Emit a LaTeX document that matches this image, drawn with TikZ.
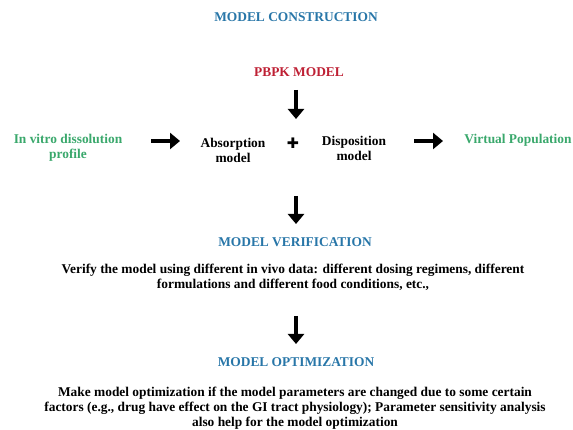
\documentclass[tikz,border=0pt]{standalone}
\usepackage{fontspec}
\setmainfont{Liberation Serif}
\newfontfamily\symfont{DejaVu Sans}
\usetikzlibrary{positioning,arrows.meta}
\usepackage{xcolor}
\definecolor{stageblue}{RGB}{40,118,168}
\definecolor{pbpkred}{RGB}{190,32,52}
\definecolor{inoutgreen}{RGB}{58,168,108}

\begin{document}
\begin{tikzpicture}[
    x=1pt, y=-1pt,
    title/.style={font=\bfseries\fontsize{13.4}{15}\selectfont, text=stageblue, inner sep=1pt},
    part/.style={font=\bfseries\fontsize{13.4}{15}\selectfont, align=center, inner sep=1pt},
    side/.style={part, text=inoutgreen},
    desc/.style={font=\bfseries\fontsize{13.4}{15}\selectfont, align=center, inner sep=1pt},
    bigarrow/.style={-{Triangle[length=10pt,width=16pt]}, line width=4.5pt}
]
    \useasboundingbox (0,0) rectangle (573,430);

    \node[title] (construction) at (296,17) {MODEL CONSTRUCTION};
    \node[part, text=pbpkred] (pbpk) at (299,72) {PBPK MODEL};
    \coordinate (pbpktop) at (296,90);
    \coordinate (pbpkend) at (296,119);

    \node[side] (dissolution) at (68,148) {In vitro dissolution\\profile};
    \node[part] (absorption) at (233,150) {Absorption\\model};
    \node[font=\symfont\fontsize{14.5}{14.5}\selectfont, inner sep=0pt] (plus) at (293,143) {✚};
    \node[part] (disposition) at (354,148) {Disposition\\model};
    \node[side] (population) at (518,140) {Virtual Population};

    \coordinate (arrowAstart) at (151,141);
    \coordinate (arrowAend) at (180,141);
    \coordinate (arrowBstart) at (414,141);
    \coordinate (arrowBend) at (443,141);

    \coordinate (verifytop) at (296,196);
    \coordinate (verifyend) at (296,224);
    \node[title] (verification) at (295,242) {MODEL VERIFICATION};
    \node[desc] (verify) at (293,277) {Verify the model using different in vivo data: different dosing regimens, different\\formulations and different food conditions, etc.,};

    \coordinate (optimtop) at (296,316);
    \coordinate (optimend) at (296,344);
    \node[title] (optimization) at (296,362) {MODEL OPTIMIZATION};
    \node[desc] (optimize) at (295,408) {Make model optimization if the model parameters are changed due to some certain\\factors (e.g., drug have effect on the GI tract physiology); Parameter sensitivity analysis\\also help for the model optimization};

    \draw[bigarrow] (pbpktop) -- (pbpkend);
    \draw[bigarrow] (arrowAstart) -- (arrowAend);
    \draw[bigarrow] (arrowBstart) -- (arrowBend);
    \draw[bigarrow] (verifytop) -- (verifyend);
    \draw[bigarrow] (optimtop) -- (optimend);
\end{tikzpicture}
\end{document}
